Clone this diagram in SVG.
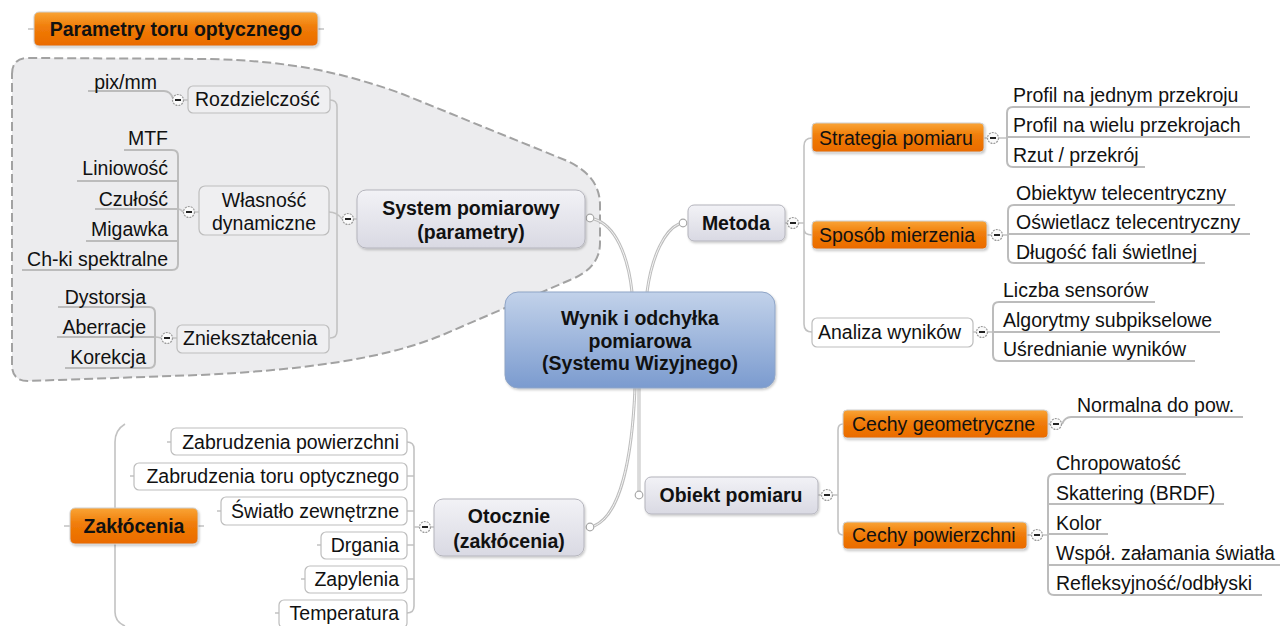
<svg xmlns="http://www.w3.org/2000/svg" xmlns:xlink="http://www.w3.org/1999/xlink" width="1281" height="626" viewBox="0 0 1281 626">
<style>
text{font-family:"Liberation Sans",Arial,sans-serif;font-size:19.5px;fill:#111}
.b{font-weight:bold}
.m{text-anchor:middle}
.e{text-anchor:end}
.orange{fill:url(#gOr);stroke:#d0d0d0;stroke-width:1}
.gray{fill:url(#gGr);stroke:#b4b4bc;stroke-width:1}
.plain{fill:#ffffff;stroke:#bdbdbd;stroke-width:1.2}
.inb{fill:#efeff1;stroke:#bdbdbd;stroke-width:1.2}
.sub{fill:none;stroke:#c2c2c2;stroke-width:1.6}
.ul{fill:none;stroke:#bcbcbc;stroke-width:2}
.mainO{fill:none;stroke:#bdbdbd;stroke-width:3}
.mainI{fill:none;stroke:#f6f6f6;stroke-width:1}
.dot{fill:#fff;stroke:#a8a8a8;stroke-width:1.2}
</style>
<defs>
<linearGradient id="gOr" x1="0" y1="0" x2="0" y2="1"><stop offset="0" stop-color="#f9a436"/><stop offset="0.45" stop-color="#f07c08"/><stop offset="1" stop-color="#ea6a00"/></linearGradient>
<linearGradient id="gGr" x1="0" y1="0" x2="0" y2="1"><stop offset="0" stop-color="#f2f2f6"/><stop offset="1" stop-color="#d9d9e3"/></linearGradient>
<linearGradient id="gBl" x1="0" y1="0" x2="0" y2="1"><stop offset="0" stop-color="#c2d2ea"/><stop offset="1" stop-color="#7b9bcf"/></linearGradient>
<filter id="sh" x="-10%" y="-10%" width="130%" height="140%"><feDropShadow dx="1" dy="1.5" stdDeviation="1.2" flood-color="#000" flood-opacity="0.22"/></filter>
<g id="col"><circle r="5.5" fill="#fafafa" stroke="#9c9c9c" stroke-width="1.2" stroke-dasharray="2 1"/><line x1="-3" y1="0" x2="3" y2="0" stroke="#222" stroke-width="2"/></g>
</defs>
<rect width="1281" height="626" fill="#ffffff"/>

<g id="boundary">
<path d="M12,74 Q12,58 28,58 L210,59 C290,61 340,72 400,93 L565,160 Q600,175 600,205 L600,243 Q600,268 570,280 L440,336 C380,360 300,370 200,375 L28,381 Q12,381 12,365 Z" fill="#ececee" stroke="#a2a2a2" stroke-width="2" stroke-dasharray="9 4"/>
</g>

<g id="connectors">
<path class="mainO" d="M632,292 C628,255 615,225 594,219"/><path class="mainI" d="M632,292 C628,255 615,225 594,219"/>
<path class="mainO" d="M647,292 C652,255 665,230 679,224"/><path class="mainI" d="M647,292 C652,255 665,230 679,224"/>
<path class="mainO" d="M639,388 L639,491"/><path class="mainI" d="M639,388 L639,491"/>
<path class="mainO" d="M635,388 C632,460 620,515 594,526"/><path class="mainI" d="M635,388 C632,460 620,515 594,526"/>

<path class="sub" d="M354,219 L357,219 M329,212 Q337,212 342,219 M330,100 Q337,100 337,107 L337,331 Q337,338 330,338"/>
<path class="sub" d="M184,100 L188,100"/>
<path class="ul" d="M88,91 L164,91 Q170,91 173,98"/>
<path class="sub" d="M195,212 L199,212 M183,212 Q181,209 178,209"/>
<path class="ul" d="M124,150 L172,150 Q178,150 178,156 L178,264 Q178,270 172,270 L22,270 M77,181 L178,181 M95,209 L178,209 M86,241 L178,241"/>
<path class="sub" d="M173,338 L177,338 M161,338 Q158,337 155,337"/>
<path class="ul" d="M58,307 L149,307 Q155,307 155,313 L155,362 Q155,368 149,368 L65,368 M57,337 L155,337"/>

<path class="sub" d="M785,223 L787,223 M799,223 L804,223 M812,138 Q804,138 804,146 L804,324 Q804,332 812,332 M804,229 Q804,235 812,235"/>
<path class="sub" d="M984,138 L987,138 M999,138 L1007,138"/>
<path class="ul" d="M1250,107 L1013,107 Q1007,107 1007,113 L1007,161 Q1007,167 1013,167 L1145,167 M1007,137 L1250,137"/>
<path class="sub" d="M987,235 L991,235 M1003,235 L1008,235"/>
<path class="ul" d="M1235,205 L1014,205 Q1008,205 1008,211 L1008,257 Q1008,263 1014,263 L1205,263 M1008,234 L1250,234"/>
<path class="sub" d="M973,332 L976,332 M988,332 L993,332"/>
<path class="ul" d="M1155,302 L999,302 Q993,302 993,308 L993,355 Q993,361 999,361 L1195,361 M993,332 L1220,332"/>
<path class="sub" d="M818,495 L821,495 M833,495 L838,495 M843,424 Q838,424 838,430 L838,529 Q838,535 843,535"/>
<path class="sub" d="M1048,424 L1050,424"/>
<path class="ul" d="M1062,424 Q1065,417 1071,417 L1243,417"/>
<path class="sub" d="M1027,535 L1031,535 M1043,535 L1048,535"/>
<path class="ul" d="M1186,474 L1054,474 Q1048,474 1048,480 L1048,589 Q1048,595 1054,595 L1262,595 M1048,504 L1224,504 M1048,534 L1108,534 M1048,565 L1280,565"/>

<path class="sub" d="M431,527 L434,527 M419,527 L414,527 M407,442 Q414,442 414,449 L414,606 Q414,613 407,613 M407,476 L414,476 M407,511 L414,511 M407,545 L414,545 M407,579 L414,579"/>
<path class="sub" d="M167,442 L171,442 M130,476 L134,476 M217,511 L221,511 M317,545 L321,545 M301,579 L305,579 M275,613 L279,613"/>
<path class="sub" d="M125,424 Q115,430 115,442 L115,612 Q115,622 125,626"/>
<path class="sub" d="M64,526 L70,526 M198,526 L204,526 M28,29 L34,29 M318,29 L324,29"/>

<circle class="dot" cx="590" cy="218" r="3.8"/>
<circle class="dot" cx="683" cy="223" r="3.8"/>
<circle class="dot" cx="639" cy="495" r="3.8"/>
<circle class="dot" cx="590" cy="527" r="3.8"/>
<use xlink:href="#col" x="178" y="100"/>
<use xlink:href="#col" x="189" y="212"/>
<use xlink:href="#col" x="167" y="338"/>
<use xlink:href="#col" x="348" y="219"/>
<use xlink:href="#col" x="793" y="223"/>
<use xlink:href="#col" x="993" y="138"/>
<use xlink:href="#col" x="997" y="235"/>
<use xlink:href="#col" x="982" y="332"/>
<use xlink:href="#col" x="827" y="495"/>
<use xlink:href="#col" x="1056" y="424"/>
<use xlink:href="#col" x="1037" y="535"/>
<use xlink:href="#col" x="425" y="527"/>
</g>

<g id="n-title"><rect class="orange" filter="url(#sh)" x="34" y="12" width="284" height="34" rx="5"/><text class="b m" x="176" y="36">Parametry toru optycznego</text></g>

<g id="n-central"><rect filter="url(#sh)" x="505" y="292" width="270" height="96" rx="13" fill="url(#gBl)" stroke="#8ea4c6" stroke-width="1"/><text class="b m" x="640" y="325">Wynik i odchyłka</text><text class="b m" x="640" y="348">pomiarowa</text><text class="b m" x="640" y="370">(Systemu Wizyjnego)</text></g>

<g id="n-system"><rect class="gray" filter="url(#sh)" x="357" y="190" width="228" height="58" rx="9"/><text class="b m" x="471" y="215">System pomiarowy</text><text class="b m" x="471" y="239">(parametry)</text></g>
<g id="n-rozdz"><rect class="inb" x="188" y="86" width="142" height="27" rx="5"/><text x="195" y="106">Rozdzielczość</text></g>
<g id="n-pix"><text class="e" x="157" y="89">pix/mm</text></g>
<g id="n-wlasnosc"><rect class="inb" x="199" y="186" width="130" height="49" rx="6"/><text class="m" x="264" y="207">Własność</text><text class="m" x="264" y="230">dynamiczne</text></g>
<g id="n-mtf"><text class="e" x="168" y="145">MTF</text></g>
<g id="n-lin"><text class="e" x="168" y="175">Liniowość</text></g>
<g id="n-czul"><text class="e" x="168" y="206">Czułość</text></g>
<g id="n-mig"><text class="e" x="168" y="236">Migawka</text></g>
<g id="n-chki"><text class="e" x="168" y="266">Ch-ki spektralne</text></g>
<g id="n-znieks"><rect class="inb" x="177" y="325" width="152" height="28" rx="5"/><text x="183" y="345">Zniekształcenia</text></g>
<g id="n-dyst"><text class="e" x="146" y="304">Dystorsja</text></g>
<g id="n-aber"><text class="e" x="146" y="334">Aberracje</text></g>
<g id="n-kor"><text class="e" x="146" y="364">Korekcja</text></g>

<g id="n-metoda"><rect class="gray" filter="url(#sh)" x="688" y="205" width="97" height="36" rx="6"/><text class="b m" x="736" y="230">Metoda</text></g>
<g id="n-strategia"><rect class="orange" filter="url(#sh)" x="812" y="123" width="172" height="29" rx="4"/><text x="819" y="145">Strategia pomiaru</text></g>
<g id="n-p1"><text x="1013" y="102">Profil na jednym przekroju</text></g>
<g id="n-p2"><text x="1013" y="132">Profil na wielu przekrojach</text></g>
<g id="n-p3"><text x="1013" y="162">Rzut / przekrój</text></g>
<g id="n-sposob"><rect class="orange" filter="url(#sh)" x="812" y="221" width="175" height="28" rx="4"/><text x="819" y="242">Sposób mierzenia</text></g>
<g id="n-s1"><text x="1016" y="200">Obiektyw telecentryczny</text></g>
<g id="n-s2"><text x="1016" y="229">Oświetlacz telecentryczny</text></g>
<g id="n-s3"><text x="1016" y="259">Długość fali świetlnej</text></g>
<g id="n-analiza"><rect class="plain" x="812" y="318" width="161" height="29" rx="5"/><text x="818" y="339">Analiza wyników</text></g>
<g id="n-a1"><text x="1003" y="297">Liczba sensorów</text></g>
<g id="n-a2"><text x="1003" y="327">Algorytmy subpikselowe</text></g>
<g id="n-a3"><text x="1003" y="356">Uśrednianie wyników</text></g>

<g id="n-obiekt"><rect class="gray" filter="url(#sh)" x="645" y="477" width="173" height="37" rx="6"/><text class="b m" x="731" y="502">Obiekt pomiaru</text></g>
<g id="n-geo"><rect class="orange" filter="url(#sh)" x="843" y="410" width="205" height="28" rx="4"/><text x="852" y="431">Cechy geometryczne</text></g>
<g id="n-norm"><text x="1077" y="412">Normalna do pow.</text></g>
<g id="n-pow"><rect class="orange" filter="url(#sh)" x="843" y="522" width="184" height="27" rx="4"/><text x="852" y="542">Cechy powierzchni</text></g>
<g id="n-c1"><text x="1056" y="470">Chropowatość</text></g>
<g id="n-c2"><text x="1056" y="500">Skattering (BRDF)</text></g>
<g id="n-c3"><text x="1056" y="530">Kolor</text></g>
<g id="n-c4"><text x="1056" y="560">Współ. załamania światła</text></g>
<g id="n-c5"><text x="1056" y="590">Refleksyjność/odbłyski</text></g>

<g id="n-otocznie"><rect class="gray" filter="url(#sh)" x="434" y="499" width="150" height="57" rx="9"/><text class="b m" x="509" y="523">Otocznie</text><text class="b m" x="509" y="548">(zakłócenia)</text></g>
<g id="n-o1"><rect class="plain" x="171" y="428" width="236" height="27" rx="5"/><text class="e" x="399" y="449">Zabrudzenia powierzchni</text></g>
<g id="n-o2"><rect class="plain" x="134" y="463" width="273" height="27" rx="5"/><text class="e" x="399" y="483">Zabrudzenia toru optycznego</text></g>
<g id="n-o3"><rect class="plain" x="221" y="497" width="186" height="28" rx="5"/><text class="e" x="399" y="518">Światło zewnętrzne</text></g>
<g id="n-o4"><rect class="plain" x="321" y="532" width="86" height="27" rx="5"/><text class="e" x="399" y="552">Drgania</text></g>
<g id="n-o5"><rect class="plain" x="305" y="566" width="102" height="27" rx="5"/><text class="e" x="399" y="586">Zapylenia</text></g>
<g id="n-o6"><rect class="plain" x="279" y="600" width="128" height="28" rx="5"/><text class="e" x="399" y="620">Temperatura</text></g>
<g id="n-zakl"><rect class="orange" filter="url(#sh)" x="70" y="508" width="128" height="36" rx="5"/><text class="b m" x="134" y="533">Zakłócenia</text></g>
</svg>
